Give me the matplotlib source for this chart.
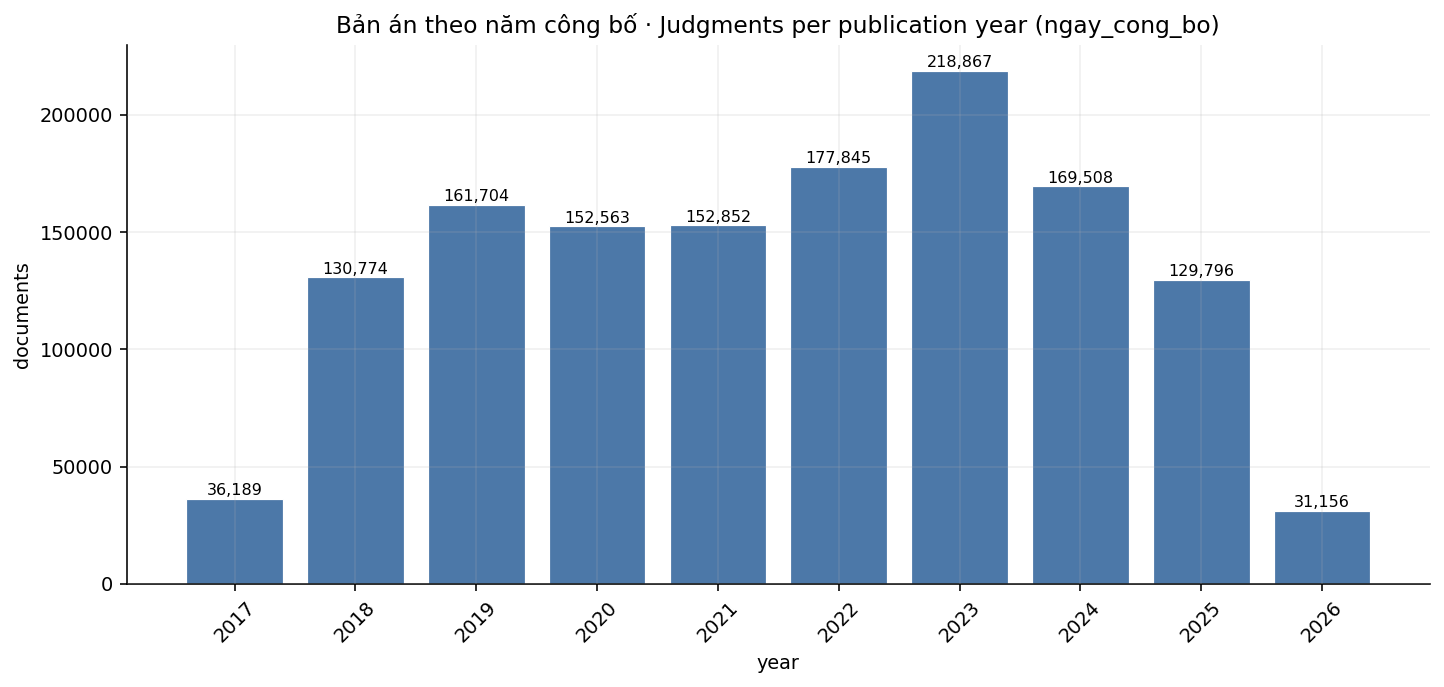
import matplotlib
matplotlib.use('Agg')
import matplotlib.pyplot as plt
import numpy as np

# Judgments per publication year
years = ['2017', '2018', '2019', '2020', '2021', '2022', '2023', '2024', '2025', '2026']
counts = [36189, 130774, 161704, 152563, 152852, 177845, 218867, 169508, 129796, 31156]

plt.rcParams['font.family'] = 'DejaVu Sans'

fig = plt.figure(figsize=(1444 / 144, 687 / 144), dpi=144)
ax = fig.add_axes([0.088, 0.150, 0.902, 0.7845])

x = np.arange(len(years))
bars = ax.bar(x, counts, width=0.8, color='#4C78A8', edgecolor='white', linewidth=0.6, zorder=1)
ax.bar_label(bars, labels=[f'{c:,}' for c in counts], fontsize=8, padding=0.3)

ax.set_xticks(x)
ax.set_xticklabels(years, rotation=45, fontsize=9.6)
ax.tick_params(axis='y', labelsize=9.6)
ax.set_xlabel('year', fontsize=9.6)
ax.set_ylabel('documents', fontsize=9.6)
ax.set_title('Bản án theo năm công bố · Judgments per publication year (ngay_cong_bo)', fontsize=11.7)

# light grid drawn over the bars
ax.grid(True, alpha=0.2, linewidth=0.8, zorder=3)
ax.set_axisbelow(False)

ax.spines['top'].set_visible(False)
ax.spines['right'].set_visible(False)

fig.savefig('out.png', dpi=144)
